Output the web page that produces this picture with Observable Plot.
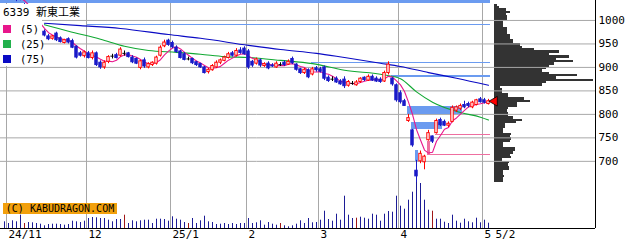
<!DOCTYPE html>
<html><head><meta charset="utf-8">
<script src="https://cdn.jsdelivr.net/npm/d3@7"></script>
<script src="https://cdn.jsdelivr.net/npm/@observablehq/plot@0.6"></script>
<style>
html,body{margin:0;padding:0;background:#fff;overflow:hidden;}
#wrap{position:relative;width:640px;height:241px;overflow:hidden;background:#fff;font-family:"DejaVu Sans Mono","Noto Sans CJK JP",monospace;}
#wrap svg{position:absolute;left:0;top:0;}
.ov{position:absolute;}
</style></head><body><div id="wrap"></div>
<script>
// ---- data ----
const title = "6339 新東工業";
const copyright = "(C) KABUDRAGON.COM";
const legendLabels = ["(5)", "(25)", "(75)"];
const monthStartIdx = [1, 21, 42, 61, 79, 99, 120];
const monthLabels = ["24/11", "12", "25/1", "2", "3", "4", "5"];
const lastLabel = "5/2";
const yTicks = [700, 750, 800, 850, 900, 950, 1000];

const openP = [1050,1052,1048,1050,1046,1030,1020,1005,990,978,
976,966,961,972,962,952,960,956,944,930,
924,930,920,930,910,900,912,924,926,925,
930,930,921,918,899,915,900,905,908,925,
945,957,952,942,934,928,918,918,911,907,
900,890,894,900,910,914,920,930,925,936,
940,934,912,908,915,903,908,904,900,906,
910,906,918,906,896,888,894,885,898,896,
900,878,875,876,870,874,861,866,862,869,
878,872,880,876,874,870,888,876,862,845,
828,786,766,680,700,698,745,753,760,788,
784,776,784,808,812,820,822,815,820,832,
830,822];
const highP = [1058,1060,1055,1056,1050,1036,1025,1010,995,985,
980,970,968,975,965,960,963,960,946,934,
935,934,935,933,914,914,925,928,930,942,
935,932,925,920,915,920,910,912,924,946,
958,960,956,946,936,932,922,920,913,909,
902,898,906,914,918,924,932,934,940,942,
944,938,915,920,918,910,912,908,912,910,
914,916,922,908,898,898,897,900,902,900,
903,882,880,880,874,880,872,870,872,878,
880,884,884,880,878,892,912,878,865,850,
832,800,768,702,722,713,766,754,790,792,
788,784,818,818,822,828,826,828,832,836,
834,832];
const lowP = [1044,1046,1043,1040,1042,1018,1000,985,975,965,
965,957,958,955,952,950,950,940,918,922,
920,918,916,902,896,896,908,918,918,922,
924,920,908,906,895,898,897,902,905,922,
942,945,940,930,918,914,914,906,902,898,
886,886,892,898,906,912,918,922,922,928,
926,896,900,905,900,900,895,900,898,902,
902,904,906,892,885,885,876,882,890,888,
872,868,870,866,862,855,858,862,860,866,
870,870,870,868,866,868,884,860,826,822,
817,783,730,655,695,682,743,738,758,774,
774,772,782,804,808,812,814,812,818,824,
822,820];
const closeP = [1052,1048,1050,1046,1044,1022,1005,990,980,972,
968,960,966,958,954,958,953,942,921,925,
932,920,930,905,900,910,922,924,920,938,
930,922,911,908,913,902,907,910,921,942,
953,948,943,933,920,916,918,909,905,900,
888,895,903,910,915,921,928,925,935,931,
928,900,904,917,904,907,898,902,908,906,
905,912,909,895,888,895,879,896,894,891,
876,871,875,868,864,860,869,866,868,876,
873,880,872,870,869,888,906,864,830,826,
818,792,734,668,716,710,760,742,786,777,
776,780,814,815,818,815,818,825,830,826,
825,828];
const volume = [67,50,77,67,133,50,60,57,50,43,
27,40,43,43,40,33,40,73,67,60,
73,100,110,107,100,100,83,67,90,90,
133,50,77,67,77,83,83,50,93,93,
90,73,117,93,83,60,50,100,50,77,
123,67,60,40,43,50,40,50,40,50,
50,100,50,57,77,33,60,43,33,50,
27,17,27,43,77,50,100,57,60,83,
173,90,73,143,83,323,133,100,103,113,
103,93,143,133,73,143,170,163,323,223,
193,283,363,630,450,283,183,173,93,93,
63,50,133,73,53,93,67,57,103,57,
83,53];
const volRedDays = [5, 30, 46, 69, 88, 107];

const ma25Idx = [10, 16, 24, 30, 36, 43, 49, 55, 61, 69, 77, 85, 95, 99, 103, 107, 114, 119, 121];
const ma25Val = [991, 977, 960, 945, 936, 932, 928, 923, 921, 915, 908, 894, 884, 876, 848, 826, 804, 794, 788];
const ma75Idx = [10, 19, 29, 41, 49, 61, 69, 78, 85, 94, 99, 106, 113, 121];
const ma75Val = [994, 989, 983, 970, 962, 947, 938, 930, 921, 909, 902, 889, 877, 862];

// price windows (gaps) still open: start day, end day, low, high, direction
const gapFrom = [-1, 21, 77, 97, 101, 102, 103, 106, 106, 108];
const gapTo   = [121, 121, 121, 121, 114, 109, 103, 121, 106, 121];
const gapLo   = [1036, 988.5, 909, 878, 800, 768, 700, 712.5, 713, 754];
const gapHi   = [1046, 990.5, 911, 883, 817, 783, 723, 714.5, 743, 758];
const gapKind = ["down","down","down","down","down","down","down","up","up","up"];

// volume-at-price profile (5-yen bins)
const profileBin = [655,660,665,670,675,680,685,690,695,700,705,710,715,720,725,730,735,740,745,750,
755,760,765,770,775,780,785,790,795,800,805,810,815,820,825,830,835,840,845,850,
855,860,865,870,875,880,885,890,895,900,905,910,915,920,925,930,935,940,945,950,
955,960,965,970,975,980,985,990,995,1000,1005,1010,1015,1020,1025,1030];
const profileVol = [9,9,10,9,9,15,15,14,15,8,17,16,19,21,21,9,9,16,17,16,
17,9,9,11,11,22,28,19,14,14,13,14,23,23,36,30,14,14,8,8,
6,48,52,99,62,83,55,48,52,55,60,79,62,75,55,65,40,28,26,19,
19,16,16,13,13,13,9,9,9,13,13,12,16,12,5,3];

// ---- colours ----
const C_UP = "#ff0000", C_DOWN = "#1a1ac8", C_DOJI = "#000000";
const C_MA5 = "#e8168c", C_MA25 = "#10a832", C_MA75 = "#0a0ac4";
const C_GAPDN = "#6b9bf0", C_GAPUP = "#ee6fa0";
const legendColors = [C_MA5, "#22b14c", C_MA75];

// ---- derived tables ----
const n = closeP.length;
const candles = closeP.map((c, i) => ({i, open: openP[i], high: highP[i], low: lowP[i], close: c}));
const colorOf = d => d.close > d.open ? C_UP : d.close < d.open ? C_DOWN : C_DOJI;
const bodies = candles.filter(d => d.close !== d.open);
const dojis = candles.filter(d => d.close === d.open);
const vols = volume.map((v, i) => ({i, v, red: volRedDays.includes(i)}));
const ma25 = ma25Idx.map((i, k) => ({i, v: ma25Val[k]}));
const ma75 = ma75Idx.map((i, k) => ({i, v: ma75Val[k]}));
const gaps = gapFrom.map((f, k) => ({from: f, to: gapTo[k], lo: gapLo[k], hi: gapHi[k], kind: gapKind[k]}));
const profile = profileBin.map((p, k) => ({p, w: profileVol[k]}));
const last = candles[n - 1];

const W = 640, H = 241, MR = 45, MB = 13;
const xDomain = [-1, 147.75];
const yDomain = [557, 1042.5];
const baseStyle = {background: "transparent", fontFamily: "DejaVu Sans Mono, monospace", fontSize: "11px", color: "black", overflow: "visible"};

// volume (bottom band)
const volPlot = Plot.plot({
  width: W, height: H, marginLeft: 0, marginRight: MR, marginTop: 0, marginBottom: MB,
  x: {domain: xDomain, axis: null, label: null}, y: {domain: [0, 2280], axis: null, label: null},
  style: baseStyle,
  marks: [
    Plot.ruleX(vols, {x: "i", y1: 0, y2: "v", stroke: d => d.red ? "#a01818" : "#1c1c96", strokeWidth: 1})
  ]
});

// price profile on the right
const profPlot = Plot.plot({
  width: W, height: H, marginLeft: 494, marginRight: MR, marginTop: 0, marginBottom: MB,
  x: {domain: [0, 101], axis: null, label: null}, y: {domain: yDomain, axis: null, label: null},
  style: baseStyle,
  marks: [
    Plot.rect(profile, {x1: 0, x2: "w", y1: "p", y2: d => d.p + 5, fill: "#333333", shapeRendering: "crispEdges"})
  ]
});

// main price chart
const pricePlot = Plot.plot({
  width: W, height: H, marginLeft: 0, marginRight: MR, marginTop: 0, marginBottom: MB,
  x: {domain: xDomain, label: null}, y: {domain: yDomain, label: null},
  style: baseStyle,
  marks: [
    Plot.ruleY(yTicks, {stroke: "#a8a8a8"}),
    Plot.ruleX(monthStartIdx, {x: d => d - 0.5, stroke: "#a8a8a8"}),
    Plot.rect(gaps, {x1: d => d.from - 0.25, x2: d => d.to + 0.5, y1: "lo", y2: "hi",
      fill: d => d.kind === "down" ? C_GAPDN : C_GAPUP, shapeRendering: "crispEdges"}),
    Plot.line(ma75, {x: "i", y: "v", stroke: C_MA75, strokeWidth: 1.1, curve: "monotone-x"}),
    Plot.line(ma25, {x: "i", y: "v", stroke: C_MA25, strokeWidth: 1.1, curve: "monotone-x"}),
    Plot.line(candles, Plot.windowY({k: 5, anchor: "end"}, {x: "i", y: "close", stroke: C_MA5, strokeWidth: 1.1})),
    Plot.ruleX(candles, {x: "i", y1: "low", y2: "high", stroke: colorOf, strokeWidth: 1}),
    Plot.rect(bodies, {x1: d => d.i - 0.3, x2: d => d.i + 0.3, y1: "open", y2: "close",
      fill: d => d.close > d.open ? "white" : C_DOWN, stroke: colorOf, strokeWidth: 1}),
    Plot.ruleY(dojis, {y: "open", x1: d => d.i - 0.4, x2: d => d.i + 0.4, stroke: C_DOJI}),
    Plot.dot([last], {x: "i", y: "close", dx: 6, symbol: "triangle", rotate: -90, r: 3.6, fill: "#ff0000", stroke: "#000", strokeWidth: 0.8}),
    Plot.ruleX([xDomain[1]], {stroke: "black"}),
    Plot.ruleY([yDomain[0]], {stroke: "black"}),
    Plot.axisY(yTicks, {anchor: "right", tickSize: 0, tickPadding: 3, tickFormat: d => String(d), textAnchor: "start", label: null}),
    Plot.axisX(monthStartIdx, {anchor: "bottom", tickSize: 0, tickPadding: 2, textAnchor: "start", label: null,
      tickFormat: d => monthLabels[monthStartIdx.indexOf(d)]}),
    Plot.axisX([last.i], {anchor: "bottom", tickSize: 0, tickPadding: 2, textAnchor: "start", dx: 7, label: null,
      tickFormat: () => lastLabel})
  ]
});

const wrap = document.getElementById("wrap");
wrap.append(volPlot, profPlot, pricePlot);

// overlays: title box, legend box, copyright
function ov(css, text) {
  const d = document.createElement("div");
  d.className = "ov";
  Object.assign(d.style, css);
  if (text != null) d.textContent = text;
  wrap.appendChild(d);
  return d;
}
ov({left: "0px", top: "4px", width: "78px", height: "15px", background: "#fff"});
ov({left: "0px", top: "4px", width: "42px", height: "62px", background: "#fff"});
ov({left: "3px", top: "7px", fontSize: "11px", lineHeight: "12px", whiteSpace: "nowrap", color: "#000"}, title);
legendLabels.forEach((lab, k) => {
  ov({left: "3px", top: (25 + 15 * k) + "px", width: "8px", height: "8px", background: legendColors[k]});
  ov({left: "20px", top: (24 + 15 * k) + "px", fontSize: "10.5px", lineHeight: "11px", color: "#000", whiteSpace: "nowrap"}, lab);
});
ov({left: "3px", top: "203px", width: "114px", height: "11px", background: "#f2a00c", fontSize: "10px",
  lineHeight: "11px", color: "#000", textAlign: "center", whiteSpace: "nowrap"}, copyright);
</script>
</body></html>
